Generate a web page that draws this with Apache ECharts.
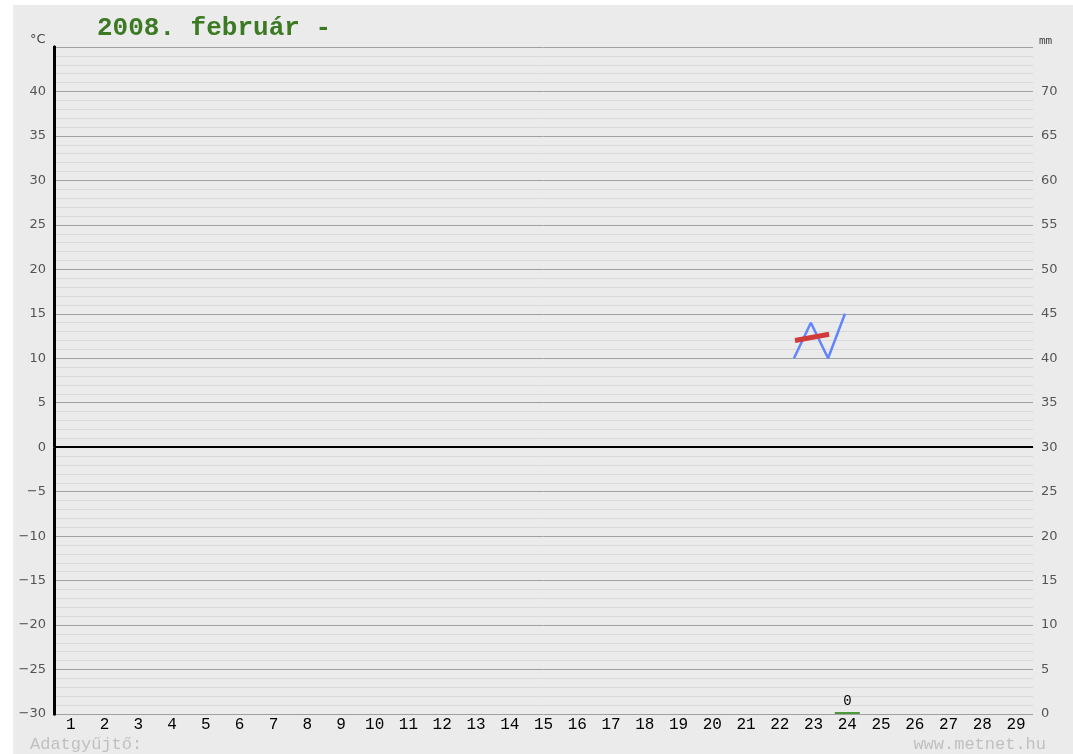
<!DOCTYPE html>
<html>
<head>
<meta charset="utf-8">
<script src="https://cdn.jsdelivr.net/npm/echarts@6/dist/echarts.min.js"></script>
<style>
  html, body { margin: 0; padding: 0; background: #ffffff; }
  #chart { position: absolute; left: 13px; top: 5px; width: 1060px; height: 749px; background: #ebebeb; }
</style>
</head>
<body>
<div id="chart"></div>
<script>
// napok (1..29)
const days = Array.from({ length: 29 }, (_, i) => String(i + 1));

// hőmérséklet, kék vonal (x: nap-tört, 0 = febr. 1. kezdete)
const tempX = [21.92, 22.42, 22.93, 23.43];
const tempY = [10, 14, 10, 15];

// középhőmérséklet, vastag piros
const avgX = [21.95, 22.96];
const avgY = [12.0, 12.7];

// csapadék (mm), csak 24-én van mérés
const precip = days.map(d => (d === '24' ? 0 : null));

const chart = echarts.init(document.getElementById('chart'));

chart.setOption({
    animation: false,
    grid: { left: 41, right: 40, top: 42, bottom: 40 },
    xAxis: [
        {
            type: 'category',
            data: days,
            boundaryGap: true,
            axisLine: { show: true, lineStyle: { color: '#9a9a9a', width: 1 } },
            axisTick: { show: false },
            axisLabel: { color: '#000', fontFamily: 'Liberation Mono', fontSize: 16, margin: 3 },
            splitLine: { show: false }
        },
        { type: 'value', min: 0, max: 29, show: false }
    ],
    yAxis: [
        {
            type: 'value', min: -30, max: 45, interval: 5,
            axisLine: { show: true, onZero: false, lineStyle: { color: '#000', width: 3 } },
            axisTick: { show: false },
            axisLabel: {
                color: '#555', fontFamily: 'DejaVu Sans', fontSize: 13, margin: 8, showMaxLabel: false,
                formatter: v => String(v).replace('-', '\u2212')
            },
            splitLine: { lineStyle: { color: '#a0a0a0', width: 1 } },
            minorTick: { show: false, splitNumber: 5 },
            minorSplitLine: { show: true, lineStyle: { color: '#d9d9d9', width: 1 } }
        },
        {
            type: 'value', min: 0, max: 75, interval: 5, position: 'right',
            axisLine: { show: true, lineStyle: { color: '#000', width: 3 } },
            axisTick: { show: false },
            axisLabel: { color: '#555', fontFamily: 'DejaVu Sans', fontSize: 13, margin: 8, showMaxLabel: false },
            splitLine: { show: false }
        }
    ],
    graphic: [
        { type: 'text', left: 84, top: 10, style: { text: '2008. február -', fill: '#3b7a22', font: 'bold 26px "Liberation Mono"' } },
        { type: 'text', left: 17, top: 28, style: { text: '°C', fill: '#444', font: '13px "DejaVu Sans"' } },
        { type: 'text', left: 1026, top: 31, style: { text: 'mm', fill: '#444', font: '11px "DejaVu Sans Mono"' } },
        { type: 'text', left: 17, top: 731, style: { text: 'Adatgyűjtő:', fill: '#c0c0c0', font: '17px "Liberation Mono"' } },
        { type: 'text', right: 27, top: 731, style: { text: 'www.metnet.hu', fill: '#c0c0c0', font: '17px "Liberation Mono"' } }
    ],
    series: [
        {
            name: 'csapadék',
            type: 'bar',
            xAxisIndex: 0, yAxisIndex: 1,
            data: precip,
            barWidth: 25,
            barMinHeight: 2,
            itemStyle: { color: '#4c9a3c' },
            label: { show: true, position: 'top', distance: 4, color: '#000', fontFamily: 'Liberation Mono', fontSize: 14, formatter: '{c}' }
        },
        {
            name: 'hőmérséklet',
            type: 'line',
            xAxisIndex: 1, yAxisIndex: 0,
            data: tempX.map((x, i) => [x, tempY[i]]),
            symbol: 'none',
            lineStyle: { color: '#6284ff', width: 2.5 },
            markLine: {
                silent: true, symbol: 'none', label: { show: false },
                lineStyle: { color: '#000', width: 2, type: 'solid' },
                data: [{ yAxis: 0 }]
            }
        },
        {
            name: 'középhőmérséklet',
            type: 'line',
            xAxisIndex: 1, yAxisIndex: 0,
            data: avgX.map((x, i) => [x, avgY[i]]),
            symbol: 'none',
            lineStyle: { color: '#d03a3a', width: 5 }
        }
    ]
});
</script>
</body>
</html>
